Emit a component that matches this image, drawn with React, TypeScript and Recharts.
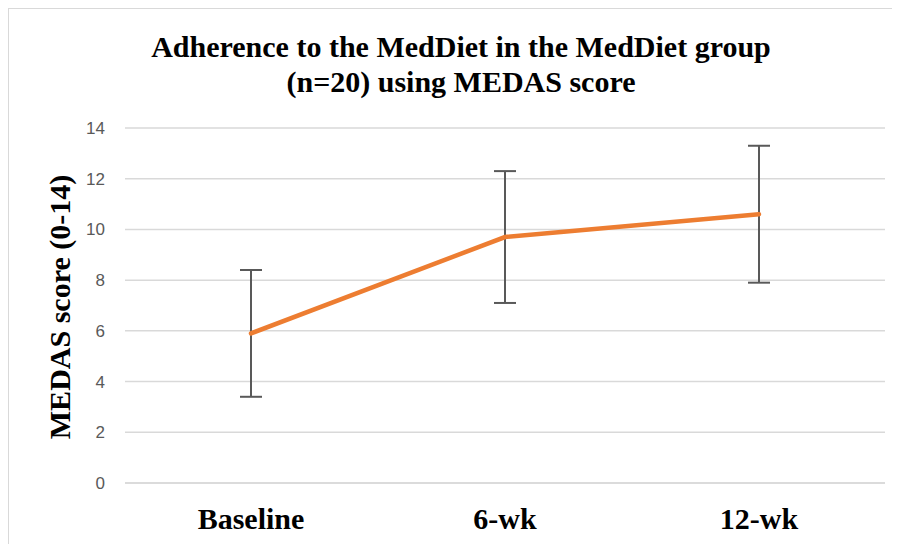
import React from "react";
import { LineChart, Line, XAxis, YAxis, CartesianGrid, ErrorBar } from "recharts";

const timepoints = ["Baseline", "6-wk", "12-wk"];
const meanScores = [5.9, 9.7, 10.6];
const sdScores = [2.5, 2.6, 2.7];
const yTicks = [0, 2, 4, 6, 8, 10, 12, 14];

const data = timepoints.map((name, i) => ({ name, score: meanScores[i], sd: sdScores[i] }));

const serif = '"Liberation Serif", "Times New Roman", serif';

const App: React.FC = () => {
  return (
    <div
      style={{
        position: "relative",
        width: 892,
        height: 536,
        overflow: "hidden",
        borderTop: "1px solid #D9D9D9",
        borderLeft: "1px solid #D9D9D9",
        boxSizing: "border-box",
        background: "#fff",
      }}
    >
      <div
        style={{
          position: "absolute",
          left: 0,
          top: 20,
          width: 904,
          textAlign: "center",
          fontFamily: serif,
          fontWeight: "bold",
          fontSize: 30,
          lineHeight: "35px",
          color: "#000",
        }}
      >
        Adherence to the MedDiet in the MedDiet group
        <br />
        (n=20) using MEDAS score
      </div>
      <div style={{ position: "absolute", left: 51, top: 298, width: 0, height: 0 }}>
        <div
          style={{
            position: "absolute",
            transform: "translate(-50%, -50%) rotate(-90deg)",
            whiteSpace: "nowrap",
            fontFamily: serif,
            fontWeight: "bold",
            fontSize: 30,
            color: "#000",
          }}
        >
          MEDAS score (0-14)
        </div>
      </div>
      <LineChart
        width={892}
        height={535}
        data={data}
        margin={{ top: 119, right: 16, left: 0, bottom: 0 }}
      >
        <CartesianGrid vertical={false} stroke="#D9D9D9" strokeWidth={1.5} />
        <XAxis
          dataKey="name"
          height={61}
          padding={{ left: 126, right: 126 }}
          axisLine={{ stroke: "#D9D9D9", strokeWidth: 1.5 }}
          tickLine={false}
          tickSize={0}
          tickMargin={25}
          tick={{ fontFamily: serif, fontWeight: "bold", fontSize: 30, fill: "#000" }}
        />
        <YAxis
          width={116}
          domain={[0, 14]}
          ticks={yTicks}
          axisLine={false}
          tickLine={false}
          tickSize={0}
          tickMargin={20}
          tick={{ fontFamily: '"Liberation Sans", Arial, sans-serif', fontSize: 17, fill: "#595959" }}
        />
        <Line
          type="linear"
          dataKey="score"
          stroke="#ED7D31"
          strokeWidth={4.5}
          strokeLinecap="round"
          dot={false}
          activeDot={false}
          isAnimationActive={false}
        >
          <ErrorBar dataKey="sd" width={11} stroke="#595959" strokeWidth={2} direction="y" />
        </Line>
      </LineChart>
    </div>
  );
};

export default App;
